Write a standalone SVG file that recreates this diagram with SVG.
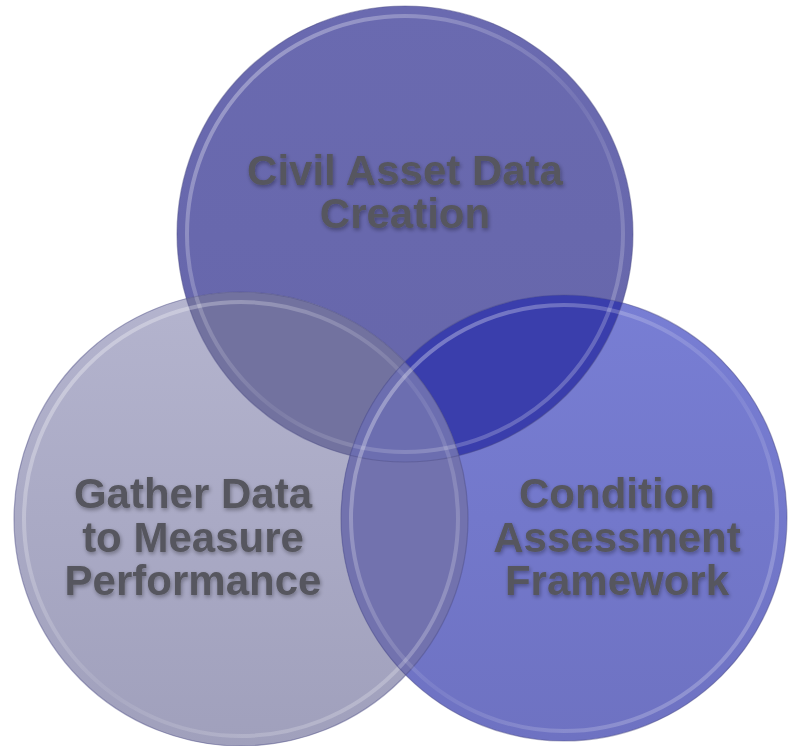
<svg xmlns="http://www.w3.org/2000/svg" width="789" height="746" viewBox="0 0 789 746">
<style>
.lbl{font-family:"Liberation Sans",Arial,sans-serif;font-weight:bold;font-size:42px;fill:#56565e;text-anchor:middle;filter:url(#sh)}
.edge{fill:none;stroke:#4e4e86;stroke-width:1.2;stroke-opacity:0.45}
.hl{fill:none;stroke:url(#hlg);stroke-width:4}
</style>
<defs>
<filter id="sh" x="-10%" y="-30%" width="120%" height="160%">
<feGaussianBlur in="SourceAlpha" stdDeviation="2"/>
<feOffset dx="1" dy="2" result="b"/>
<feComponentTransfer in="b" result="c"><feFuncA type="linear" slope="0.35"/></feComponentTransfer>
<feMerge><feMergeNode in="c"/><feMergeNode in="SourceGraphic"/></feMerge>
</filter>
<linearGradient id="hlg" x1="0" y1="0" x2="1" y2="1">
<stop offset="0" stop-color="#ffffff" stop-opacity="0.4"/>
<stop offset="0.55" stop-color="#ffffff" stop-opacity="0.08"/>
<stop offset="1" stop-color="#ffffff" stop-opacity="0.3"/>
</linearGradient>
<linearGradient id="gT" x1="0" y1="0" x2="0" y2="1">
<stop offset="0" stop-color="#6a6ab0"/>
<stop offset="1" stop-color="#6666aa"/>
</linearGradient>
<linearGradient id="gL" x1="0" y1="0" x2="0" y2="1">
<stop offset="0" stop-color="#b4b4ce"/>
<stop offset="1" stop-color="#a0a0bc"/>
</linearGradient>
<linearGradient id="gR" x1="0" y1="0" x2="0" y2="1">
<stop offset="0" stop-color="#787ed4"/>
<stop offset="1" stop-color="#6e72c2"/>
</linearGradient>
<clipPath id="cT"><circle cx="405" cy="234" r="228"/></clipPath>
<clipPath id="cL"><circle cx="241" cy="519" r="227"/></clipPath>
<clipPath id="cR"><circle cx="564" cy="518" r="223"/></clipPath>
</defs>
<rect width="789" height="746" fill="#ffffff"/>
<g id="node-top">
<circle cx="405" cy="234" r="228" fill="url(#gT)"/>
<text class="lbl" x="405" y="185">Civil Asset Data</text>
<text class="lbl" x="405" y="228">Creation</text>
</g>
<g id="node-left">
<circle cx="241" cy="519" r="227" fill="url(#gL)"/>
<text class="lbl" x="193" y="508">Gather Data</text>
<text class="lbl" x="193" y="552">to Measure</text>
<text class="lbl" x="193" y="595">Performance</text>
</g>
<g id="node-right">
<circle cx="564" cy="518" r="223" fill="url(#gR)"/>
<text class="lbl" x="617" y="508">Condition</text>
<text class="lbl" x="617" y="552">Assessment</text>
<text class="lbl" x="617" y="595">Framework</text>
</g>
<g id="overlaps">
<g clip-path="url(#cT)"><circle cx="241" cy="519" r="227" fill="#72729f"/></g>
<g clip-path="url(#cT)"><circle cx="564" cy="518" r="223" fill="#3a3eac"/></g>
<g clip-path="url(#cL)"><circle cx="564" cy="518" r="223" fill="#7272ae"/></g>
<g clip-path="url(#cT)"><g clip-path="url(#cL)"><circle cx="564" cy="518" r="223" fill="#6c6eb0"/></g></g>
</g>
<g id="rims">
<circle class="edge" cx="405" cy="234" r="228"/>
<circle class="hl" cx="405" cy="234" r="218"/>
<circle class="edge" cx="241" cy="519" r="227"/>
<circle class="hl" cx="241" cy="519" r="217"/>
<circle class="edge" cx="564" cy="518" r="223"/>
<circle class="hl" cx="564" cy="518" r="213"/>
</g>
</svg>
